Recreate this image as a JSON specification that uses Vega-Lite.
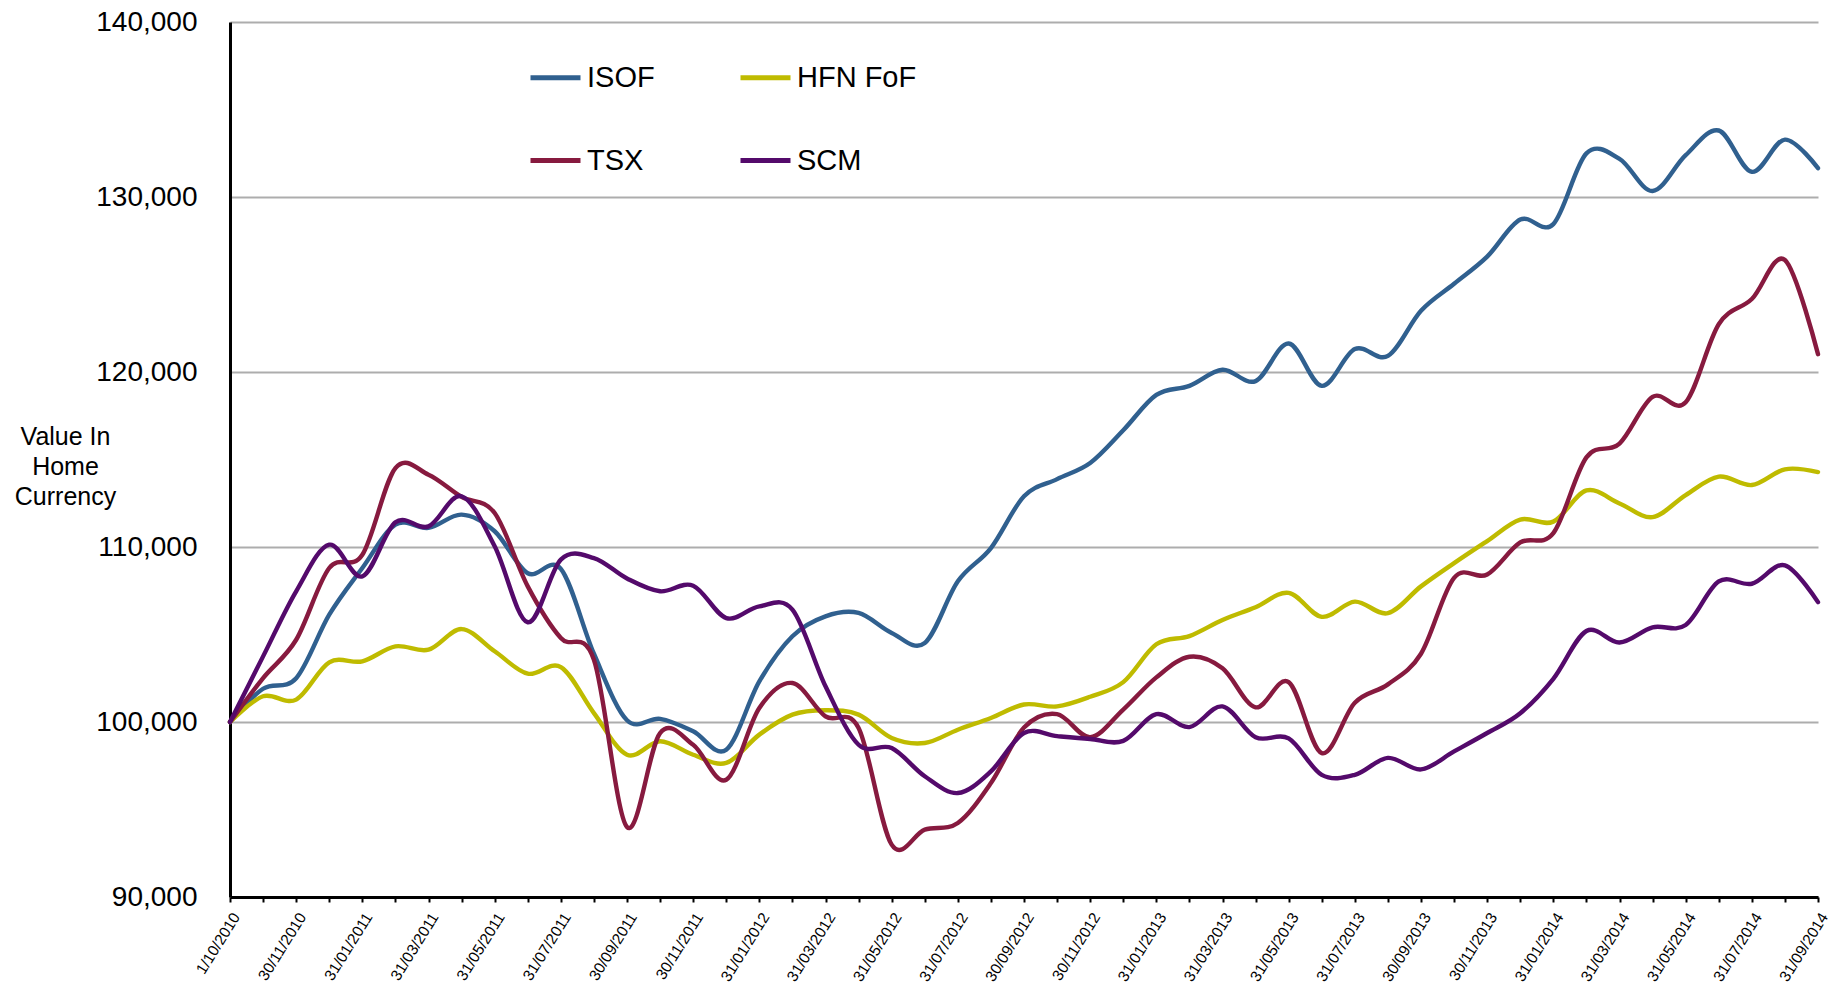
{
  "$schema": "https://vega.github.io/schema/vega-lite/v6.json",
  "width": 1588,
  "height": 875,
  "autosize": {"type": "none"},
  "padding": {"left": 230, "top": 22, "right": 14, "bottom": 87},
  "background": "white",
  "config": {
    "view": {"stroke": null},
    "font": "Liberation Sans"
  },
  "data": {
    "values": [
      {"d": "1/10/2010", "ISOF": 100000, "HFN FoF": 100000, "TSX": 100000, "SCM": 100000},
      {"d": "31/10/2010", "ISOF": 101900, "HFN FoF": 101470, "TSX": 102510, "SCM": 103750},
      {"d": "30/11/2010", "ISOF": 102500, "HFN FoF": 101280, "TSX": 104700, "SCM": 107470},
      {"d": "31/12/2010", "ISOF": 106130, "HFN FoF": 103410, "TSX": 108800, "SCM": 110130},
      {"d": "31/01/2011", "ISOF": 108800, "HFN FoF": 103470, "TSX": 109560, "SCM": 108320},
      {"d": "28/02/2011", "ISOF": 111280, "HFN FoF": 104320, "TSX": 114510, "SCM": 111410},
      {"d": "31/03/2011", "ISOF": 111090, "HFN FoF": 104130, "TSX": 114130, "SCM": 111180},
      {"d": "30/04/2011", "ISOF": 111850, "HFN FoF": 105310, "TSX": 112860, "SCM": 112900},
      {"d": "31/05/2011", "ISOF": 110900, "HFN FoF": 104040, "TSX": 111940, "SCM": 110040},
      {"d": "30/06/2011", "ISOF": 108500, "HFN FoF": 102760, "TSX": 107750, "SCM": 105700},
      {"d": "31/07/2011", "ISOF": 108750, "HFN FoF": 103140, "TSX": 104800, "SCM": 109280},
      {"d": "31/08/2011", "ISOF": 103900, "HFN FoF": 100510, "TSX": 103560, "SCM": 109370},
      {"d": "30/09/2011", "ISOF": 100100, "HFN FoF": 98130, "TSX": 94000, "SCM": 108200},
      {"d": "31/10/2011", "ISOF": 100180, "HFN FoF": 98900, "TSX": 99370, "SCM": 107470},
      {"d": "30/11/2011", "ISOF": 99470, "HFN FoF": 98130, "TSX": 98700, "SCM": 107790},
      {"d": "31/12/2011", "ISOF": 98420, "HFN FoF": 97660, "TSX": 96700, "SCM": 105940},
      {"d": "31/01/2012", "ISOF": 102320, "HFN FoF": 99280, "TSX": 100800, "SCM": 106610},
      {"d": "29/02/2012", "ISOF": 104900, "HFN FoF": 100420, "TSX": 102230, "SCM": 106420},
      {"d": "31/03/2012", "ISOF": 106040, "HFN FoF": 100670, "TSX": 100320, "SCM": 102040},
      {"d": "30/04/2012", "ISOF": 106230, "HFN FoF": 100420, "TSX": 99660, "SCM": 98700},
      {"d": "31/05/2012", "ISOF": 105090, "HFN FoF": 99090, "TSX": 92990, "SCM": 98510},
      {"d": "30/06/2012", "ISOF": 104510, "HFN FoF": 98800, "TSX": 93850, "SCM": 96900},
      {"d": "31/07/2012", "ISOF": 108040, "HFN FoF": 99560, "TSX": 94230, "SCM": 95940},
      {"d": "31/08/2012", "ISOF": 109940, "HFN FoF": 100230, "TSX": 96510, "SCM": 97180},
      {"d": "30/09/2012", "ISOF": 112900, "HFN FoF": 101000, "TSX": 99680, "SCM": 99370},
      {"d": "31/10/2012", "ISOF": 113880, "HFN FoF": 100890, "TSX": 100450, "SCM": 99190},
      {"d": "30/11/2012", "ISOF": 114800, "HFN FoF": 101440, "TSX": 99130, "SCM": 99030},
      {"d": "31/12/2012", "ISOF": 116670, "HFN FoF": 102280, "TSX": 100710, "SCM": 98920},
      {"d": "31/01/2013", "ISOF": 118690, "HFN FoF": 104440, "TSX": 102550, "SCM": 100450},
      {"d": "28/02/2013", "ISOF": 119210, "HFN FoF": 104910, "TSX": 103730, "SCM": 99710},
      {"d": "31/03/2013", "ISOF": 120130, "HFN FoF": 105830, "TSX": 103070, "SCM": 100890},
      {"d": "30/04/2013", "ISOF": 119480, "HFN FoF": 106560, "TSX": 100840, "SCM": 99130},
      {"d": "31/05/2013", "ISOF": 121630, "HFN FoF": 107380, "TSX": 102280, "SCM": 99060},
      {"d": "30/06/2013", "ISOF": 119210, "HFN FoF": 106010, "TSX": 98220, "SCM": 96980},
      {"d": "31/07/2013", "ISOF": 121310, "HFN FoF": 106880, "TSX": 101100, "SCM": 96980},
      {"d": "31/08/2013", "ISOF": 120920, "HFN FoF": 106220, "TSX": 102150, "SCM": 97950},
      {"d": "30/09/2013", "ISOF": 123500, "HFN FoF": 107750, "TSX": 103900, "SCM": 97290},
      {"d": "31/10/2013", "ISOF": 125040, "HFN FoF": 109080, "TSX": 108240, "SCM": 98320},
      {"d": "30/11/2013", "ISOF": 126590, "HFN FoF": 110340, "TSX": 108430, "SCM": 99370},
      {"d": "31/12/2013", "ISOF": 128710, "HFN FoF": 111570, "TSX": 110260, "SCM": 100500},
      {"d": "31/01/2014", "ISOF": 128450, "HFN FoF": 111450, "TSX": 110790, "SCM": 102470},
      {"d": "28/02/2014", "ISOF": 132490, "HFN FoF": 113230, "TSX": 115120, "SCM": 105200},
      {"d": "31/03/2014", "ISOF": 132180, "HFN FoF": 112490, "TSX": 115910, "SCM": 104540},
      {"d": "30/04/2014", "ISOF": 130340, "HFN FoF": 111710, "TSX": 118580, "SCM": 105410},
      {"d": "31/05/2014", "ISOF": 132390, "HFN FoF": 112970, "TSX": 118270, "SCM": 105540},
      {"d": "30/06/2014", "ISOF": 133800, "HFN FoF": 114020, "TSX": 122730, "SCM": 108030},
      {"d": "31/07/2014", "ISOF": 131440, "HFN FoF": 113540, "TSX": 124170, "SCM": 107900},
      {"d": "31/08/2014", "ISOF": 133280, "HFN FoF": 114440, "TSX": 126400, "SCM": 108950},
      {"d": "31/09/2014", "ISOF": 131650, "HFN FoF": 114280, "TSX": 121020, "SCM": 106850}
    ]
  },
  "transform": [
    {"fold": ["ISOF", "HFN FoF", "TSX", "SCM"], "as": ["series", "value"]}
  ],
  "mark": {"type": "line", "interpolate": "cardinal", "strokeWidth": 4.4, "strokeCap": "round", "strokeJoin": "round"},
  "encoding": {
    "x": {
      "field": "d",
      "type": "ordinal",
      "sort": null,
      "scale": {"type": "point", "padding": 0},
      "axis": {
        "title": null,
        "grid": false,
        "domainColor": "black",
        "domainWidth": 3,
        "ticks": true,
        "tickColor": "black",
        "tickWidth": 2,
        "tickSize": 5,
        "labelAngle": -58,
        "labelAlign": "right",
        "labelBaseline": "top",
        "labelPadding": 8,
        "labelFontSize": 15.5,
        "labelColor": "black",
        "labelOverlap": false,
        "labelBound": false,
        "labelExpr": "datum.value == '1/10/2010' || parseInt(split(datum.value, '/')[1]) % 2 == 1 ? datum.value : ''"
      }
    },
    "y": {
      "field": "value",
      "type": "quantitative",
      "scale": {"domain": [90000, 140000], "nice": false, "zero": false},
      "axis": {
        "values": [90000, 100000, 110000, 120000, 130000, 140000],
        "format": ",d",
        "grid": true,
        "gridColor": "#ADADAD",
        "gridWidth": 2,
        "domainColor": "black",
        "domainWidth": 3,
        "ticks": false,
        "labelPadding": 33,
        "labelFontSize": 28,
        "labelColor": "black",
        "title": ["Value In", "Home", "Currency"],
        "titleAngle": 0,
        "titleFontSize": 25,
        "titleFontWeight": "normal",
        "titleColor": "black",
        "titleAlign": "center",
        "titleBaseline": "middle",
        "titleLineHeight": 30,
        "titleX": -165,
        "titleY": 414
      }
    },
    "color": {
      "field": "series",
      "type": "nominal",
      "sort": ["ISOF", "HFN FoF", "TSX", "SCM"],
      "scale": {
        "domain": ["ISOF", "HFN FoF", "TSX", "SCM"],
        "range": ["#30608F", "#BFBB00", "#871A3F", "#540A6B"]
      },
      "legend": {
        "title": null,
        "orient": "none",
        "direction": "horizontal",
        "legendX": 298,
        "legendY": 28,
        "columns": 2,
        "symbolType": "stroke",
        "symbolSize": 2500,
        "symbolStrokeWidth": 5,
        "labelFontSize": 29,
        "labelColor": "black",
        "labelOffset": 4,
        "rowPadding": 40,
        "columnPadding": 75,
        "padding": 0,
        "symbolOffset": 0
      }
    }
  }
}
